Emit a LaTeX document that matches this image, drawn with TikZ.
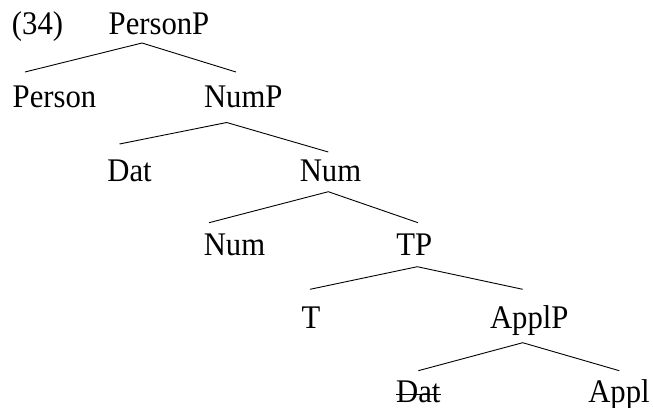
\documentclass[tikz,border=0pt]{standalone}
\usepackage{fontspec}
\setmainfont{Liberation Serif}[FakeStretch=0.93]
\usepackage{tikz}

\begin{document}
\begin{tikzpicture}[x=1pt,y=-1pt,
        label/.style={anchor=base,inner sep=0pt,font=\fontsize{33}{38}\selectfont},
        branch/.style={line width=0.9pt}]
        \useasboundingbox (0,0) rectangle (653,407);

        % Example number and the root
        \node[label] (exnum) at (37.5,34) {(34)};
        \node[label] (personP) at (159,34) {PersonP};

        % Label the nodes of the tree, row by row
        \node[label] (person) at (54.5,107) {Person};
        \node[label] (numP) at (243.3,107) {NumP};
        \node[label] (dat) at (129.5,181) {Dat};
        \node[label] (num) at (330.5,181) {Num};
        \node[label] (numB) at (234.5,255.5) {Num};
        \node[label] (tp) at (414.3,255.5) {TP};
        \node[label] (t) at (311,328) {T};
        \node[label] (applP) at (529.3,328) {ApplP};
        \node[label] (datB) at (418.3,402) {Dat};
        \node[label] (appl) at (619,402) {Appl};

        % Strike out the lower copy of Dat
        \draw[branch] ([yshift=8pt]datB.base west) -- ([yshift=8pt]datB.base east);

        % Mark where the branches meet
        \coordinate (personP-b) at (142,43);
        \coordinate (numP-b) at (226.7,122.5);
        \coordinate (num-b) at (328.3,191.7);
        \coordinate (tp-b) at (417.3,266.7);
        \coordinate (applP-b) at (522.7,342.7);

        % Mark where the branches end
        \coordinate (person-t) at (25,72);
        \coordinate (numP-t) at (236,72);
        \coordinate (dat-t) at (119.5,144);
        \coordinate (num-t) at (328.3,152);
        \coordinate (numB-t) at (209,222.7);
        \coordinate (tp-t) at (418,222.7);
        \coordinate (t-t) at (310,289.3);
        \coordinate (applP-t) at (522.7,289.3);
        \coordinate (datB-t) at (418.3,370.7);
        \coordinate (appl-t) at (619.3,370.7);

        % Draw the branches
        \foreach \a/\b/\c in {personP-b/person-t/numP-t, numP-b/dat-t/num-t,
                num-b/numB-t/tp-t, tp-b/t-t/applP-t, applP-b/datB-t/appl-t}
            \draw[branch] (\b) -- (\a) -- (\c);
    \end{tikzpicture}
\end{document}
